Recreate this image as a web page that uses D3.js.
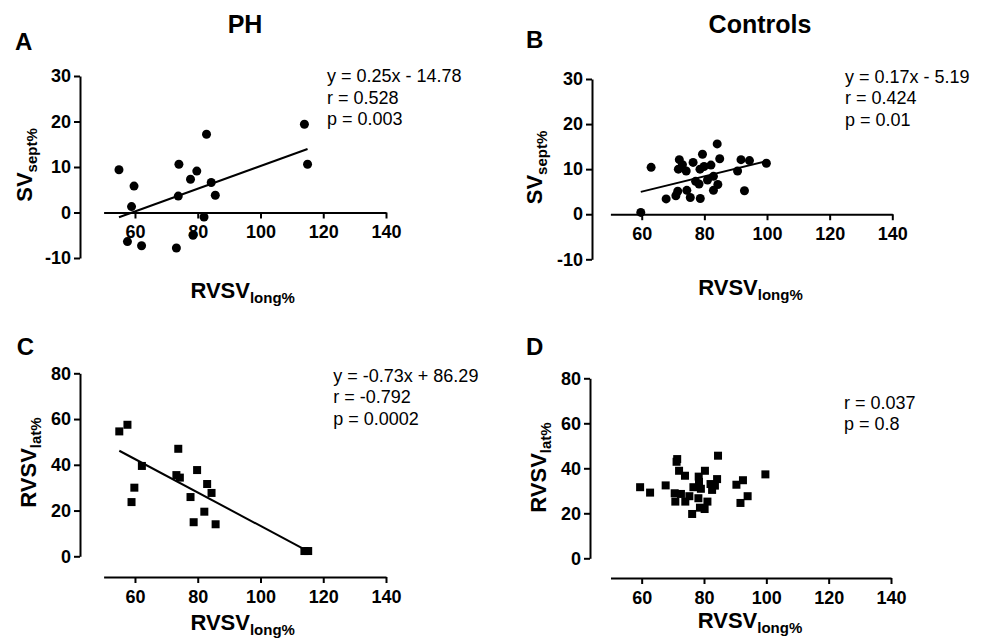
<!DOCTYPE html>
<html>
<head>
<meta charset="utf-8">
<script src="https://cdn.jsdelivr.net/npm/d3@7/dist/d3.min.js"></script>
<style>
  html, body { margin: 0; padding: 0; background: #fff; }
  svg { display: block; font-family: "Liberation Sans", Arial, sans-serif; }
</style>
</head>
<body>
<svg id="chart" width="981" height="641"></svg>
<script>
// ---------- data ----------
const xTicks = [60, 80, 100, 120, 140];
const septTicks = [-10, 0, 10, 20, 30];
const latTicks = [0, 20, 40, 60, 80];

// A: PH, SVsept% vs RVSVlong%
const phLongA = [54.9, 59.7, 58.9, 57.6, 62.1, 73.2, 74.0, 73.8, 77.7, 79.7, 82.8, 84.3, 85.6, 82.0, 78.5, 114.0, 115.0];
const phSept  = [9.4, 5.8, 1.3, -6.4, -7.3, -7.8, 10.6, 3.6, 7.3, 9.1, 17.2, 6.6, 3.8, -1.0, -5.0, 19.4, 10.6];
const phSeptFit = [0.25, -14.78];
const phSeptText = ["y = 0.25x - 14.78", "r = 0.528", "p = 0.003"];

// B: Controls, SVsept% vs RVSVlong%
const ctlLongB = [59.7, 63.0, 67.8, 70.9, 71.5, 72.0, 71.7, 73.0, 74.2, 74.4, 75.5, 76.4, 77.2, 78.3, 78.7, 79.4, 78.6, 79.9, 81.0, 82.1, 82.9, 82.9, 84.1, 84.3, 84.9, 90.6, 91.7, 94.4, 92.8, 99.8];
const ctlSept  = [0.4, 10.4, 3.4, 4.1, 5.1, 12.1, 10.0, 11.0, 9.6, 5.3, 3.7, 11.5, 7.3, 6.7, 3.5, 13.3, 10.0, 10.6, 7.6, 10.9, 8.4, 5.3, 15.6, 6.6, 12.3, 9.6, 12.1, 11.9, 5.2, 11.3];
const ctlSeptFit = [0.17, -5.19];
const ctlSeptText = ["y = 0.17x - 5.19", "r = 0.424", "p = 0.01"];

// C: PH, RVSVlat% vs RVSVlong%
const phLongC = [55.0, 57.6, 62.2, 59.8, 58.9, 73.8, 73.2, 74.3, 79.8, 77.7, 83.0, 84.4, 82.1, 78.7, 85.7, 114.0, 115.2];
const phLat   = [54.6, 57.5, 39.5, 30.0, 23.7, 47.0, 35.5, 34.4, 37.7, 25.9, 31.6, 27.7, 19.5, 14.9, 14.0, 2.3, 2.3];
const phLatFit = [-0.73, 86.29];
const phLatText = ["y = -0.73x + 86.29", "r = -0.792", "p = 0.0002"];

// D: Controls, RVSVlat% vs RVSVlong%
const ctlLongD = [59.5, 62.7, 67.7, 71.4, 71.2, 72.0, 73.9, 70.6, 70.8, 72.6, 74.0, 75.3, 76.2, 76.6, 78.3, 78.4, 79.0, 78.2, 78.7, 80.2, 80.3, 81.1, 82.1, 82.6, 83.5, 84.2, 84.5, 90.4, 92.5, 91.7, 94.0, 99.7];
const ctlLat   = [31.6, 29.2, 32.4, 44.1, 42.9, 38.9, 36.7, 28.9, 25.2, 28.6, 25.2, 27.6, 19.7, 31.6, 36.3, 34.0, 30.9, 26.7, 22.5, 21.9, 38.9, 25.2, 33.0, 30.4, 32.3, 35.2, 45.6, 32.7, 34.7, 24.6, 27.6, 37.3];
const ctlLatText = ["r = 0.037", "p = 0.8"];

const titles = ["PH", "Controls"];
const letters = ["A", "B", "C", "D"];

// ---------- layout / options ----------
const panels = [
  { letter: letters[0], lx: 15, ly: 50,
    xs: phLongA, ys: phSept, fit: phSeptFit, text: phSeptText, marker: "circle",
    xRange: [103.6, 386], yDomain: [-10, 30], yRange: [258, 76], yTicks: septTicks,
    yAxisX: 80, xAxisAtZero: true, xAxisY: null,
    annX: 327, annY: 81.7,
    yMain: "SV", ySub: "sept%", yLabX: 31.7, yLabY: 165,
    xLabX: 242.7, xLabY: 298 },
  { letter: letters[1], lx: 526, ly: 47.7,
    xs: ctlLongB, ys: ctlSept, fit: ctlSeptFit, text: ctlSeptText, marker: "circle",
    xRange: [610.4, 892.3], yDomain: [-10, 30], yRange: [259.3, 79], yTicks: septTicks,
    yAxisX: 592, xAxisAtZero: true, xAxisY: null,
    annX: 845, annY: 82.5,
    yMain: "SV", ySub: "sept%", yLabX: 541.7, yLabY: 167.5,
    xLabX: 750.5, xLabY: 295 },
  { letter: letters[2], lx: 16.7, ly: 355,
    xs: phLongC, ys: phLat, fit: phLatFit, text: phLatText, marker: "square",
    xRange: [103.6, 386], yDomain: [0, 80], yRange: [556.3, 373.3], yTicks: latTicks,
    yAxisX: 80, xAxisAtZero: false, xAxisY: 577,
    annX: 333.3, annY: 381.5,
    yMain: "RVSV", ySub: "lat%", yLabX: 36, yLabY: 462.5,
    xLabX: 242.7, xLabY: 630 },
  { letter: letters[3], lx: 526, ly: 355,
    xs: ctlLongD, ys: ctlLat, fit: null, text: ctlLatText, marker: "square",
    xRange: [610.5, 891], yDomain: [0, 80], yRange: [558.3, 378.3], yTicks: latTicks,
    yAxisX: 590, xAxisAtZero: false, xAxisY: 578,
    annX: 844, annY: 408.5,
    yMain: "RVSV", ySub: "lat%", yLabX: 545.7, yLabY: 467.5,
    xLabX: 750, xLabY: 628 }
];

const svg = d3.select("#chart");

// column titles
svg.append("text").attr("x", 245).attr("y", 32.7).attr("text-anchor", "middle")
  .attr("font-size", 25).attr("font-weight", "bold").text(titles[0]);
svg.append("text").attr("x", 760).attr("y", 33).attr("text-anchor", "middle")
  .attr("font-size", 25).attr("font-weight", "bold").text(titles[1]);

panels.forEach(p => {
  const g = svg.append("g");
  const x = d3.scaleLinear().domain([50, 140]).range(p.xRange);
  const y = d3.scaleLinear().domain(p.yDomain).range(p.yRange);

  // panel letter
  g.append("text").attr("x", p.lx).attr("y", p.ly)
    .attr("font-size", 24).attr("font-weight", "bold").text(p.letter);

  // y axis
  const yAxis = d3.axisLeft(y).tickValues(p.yTicks).tickSize(6).tickSizeOuter(0)
    .tickPadding(3).tickFormat(d => String(d));
  const yg = g.append("g").attr("transform", `translate(${p.yAxisX},0)`).call(yAxis);

  // x axis
  const xAxisY = p.xAxisAtZero ? y(0) : p.xAxisY;
  const xAxis = d3.axisBottom(x).tickValues(xTicks).tickSize(6).tickSizeOuter(0)
    .tickPadding(7).tickFormat(d => String(d));
  const xg = g.append("g").attr("transform", `translate(0,${xAxisY})`).call(xAxis);

  [yg, xg].forEach(a => {
    a.select(".domain").attr("stroke", "#000").attr("stroke-width", 2);
    a.selectAll(".tick line").attr("stroke", "#000").attr("stroke-width", 2);
    a.selectAll(".tick text").attr("font-size", 18).attr("font-weight", "bold")
      .attr("fill", "#000").attr("font-family", "Liberation Sans, Arial, sans-serif");
  });

  // regression line
  if (p.fit) {
    const [m, b] = p.fit;
    const ext = d3.extent(p.xs);
    const pts = ext.map(v => [v, m * v + b]);
    g.append("path").datum(pts)
      .attr("d", d3.line().x(d => x(d[0])).y(d => y(d[1])))
      .attr("fill", "none").attr("stroke", "#000").attr("stroke-width", 2);
  }

  // markers
  const data = p.xs.map((v, i) => [v, p.ys[i]]);
  if (p.marker === "circle") {
    g.selectAll("circle.pt").data(data).join("circle").attr("class", "pt")
      .attr("cx", d => x(d[0])).attr("cy", d => y(d[1])).attr("r", 4.5).attr("fill", "#000");
  } else {
    const s = 8;
    g.selectAll("rect.pt").data(data).join("rect").attr("class", "pt")
      .attr("x", d => x(d[0]) - s / 2).attr("y", d => y(d[1]) - s / 2)
      .attr("width", s).attr("height", s).attr("fill", "#000");
  }

  // annotation
  p.text.forEach((t, i) => {
    g.append("text").attr("x", p.annX).attr("y", p.annY + i * 21.8)
      .attr("font-size", 18).attr("fill", "#000").text(t);
  });

  // x label
  const xl = g.append("text").attr("x", p.xLabX).attr("y", p.xLabY)
    .attr("text-anchor", "middle").attr("font-weight", "bold").attr("font-size", 22);
  xl.append("tspan").text("RVSV");
  xl.append("tspan").attr("dy", 5).attr("font-size", 15).text("long%");

  // y label
  const yl = g.append("text").attr("transform", `translate(${p.yLabX},${p.yLabY}) rotate(-90)`)
    .attr("text-anchor", "middle").attr("font-weight", "bold").attr("font-size", 22);
  yl.append("tspan").text(p.yMain);
  yl.append("tspan").attr("dy", 5).attr("font-size", 15).text(p.ySub);
});
</script>
</body>
</html>
